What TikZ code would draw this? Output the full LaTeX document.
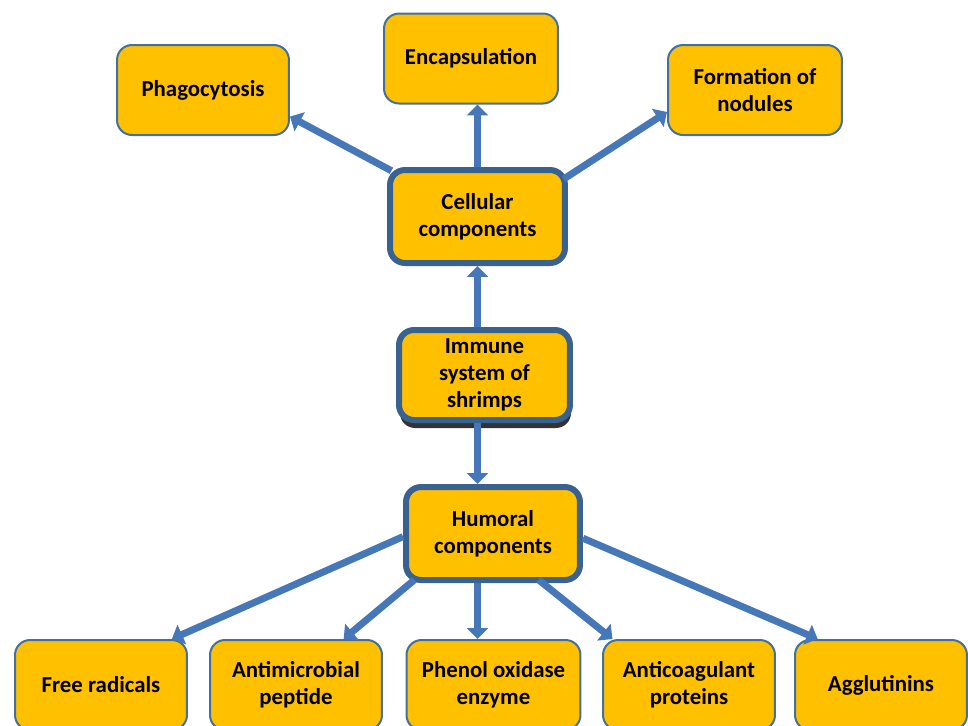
\documentclass[tikz,border=0pt]{standalone}
\usepackage{fontspec}
\setmainfont{Carlito}
\usetikzlibrary{arrows.meta,shadows}
\definecolor{boxfill}{HTML}{FFC000}
\definecolor{boxline}{HTML}{41719C}
\definecolor{mainline}{HTML}{3A6291}
\definecolor{flowblue}{HTML}{4677B8}
\tikzset{
  box/.style={draw=boxline, line width=0.04cm, fill=boxfill, rounded corners=0.3cm,
    minimum width=3.44cm, minimum height=1.8cm, inner sep=0pt, align=center,
    font=\bfseries\fontsize{13}{15.5}\selectfont},
  mainbox/.style={box, draw=mainline, line width=0.12cm},
  flow/.style={draw=flowblue, line width=0.14cm, -{Triangle[length=0.22cm,width=0.42cm]}},
  fromcorner/.style={shorten <=-0.1cm}
}
\begin{document}
\begin{tikzpicture}[x=0.02cm,y=-0.02cm]
\path[use as bounding box, clip] (0,0) rectangle (968,725);
% top row
\node[box] (pha) at (203,90) {Phagocytosis};
\node[box, minimum width=3.48cm] (enc) at (471,58.5) {Encapsulation};
\node[box, minimum width=3.48cm] (nod) at (755,90) {Formation of\\nodules};
% centre column
\node[mainbox, minimum width=3.5cm, minimum height=1.86cm] (cel) at (477.5,216.5) {Cellular\\components};
\node[mainbox, minimum width=3.42cm, minimum height=1.8cm,
  drop shadow={shadow xshift=0.02cm, shadow yshift=-0.16cm, fill=black, opacity=0.8}] (imm) at (484.5,375) {Immune\\system of\\shrimps};
\node[mainbox, minimum width=3.48cm, minimum height=1.86cm] (hum) at (493,533.5) {Humoral\\components};
% bottom row
\node[box] (fre) at (101,685) {Free radicals};
\node[box] (ant) at (296,685) {Antimicrobial\\peptide};
\node[box, minimum width=3.48cm] (phe) at (493.5,685) {Phenol oxidase\\enzyme};
\node[box] (coa) at (689,685) {Anticoagulant\\proteins};
\node[box] (agg) at (881,685) {Agglutinins};
% arrows
\draw[flow, fromcorner] (cel.152) -- (pha.-17);
\draw[flow] (cel.north) -- (enc.south -| cel.north);
\draw[flow, fromcorner] (cel.24) -- (nod.194);
\draw[flow] (imm.north -| cel.south) -- (cel.south);
\draw[flow] (imm.south -| cel.south) -- (hum.north -| cel.south);
\draw[flow] (hum.182) -- (fre.33);
\draw[flow, fromcorner] (hum.211.5) -- (ant.44);
\draw[flow] (hum.south -| cel.south) -- (phe.north -| cel.south);
\draw[flow, fromcorner] (hum.-45.5) -- (coa.149);
\draw[flow] (hum.-3) -- (agg.144);
\end{tikzpicture}
\end{document}
